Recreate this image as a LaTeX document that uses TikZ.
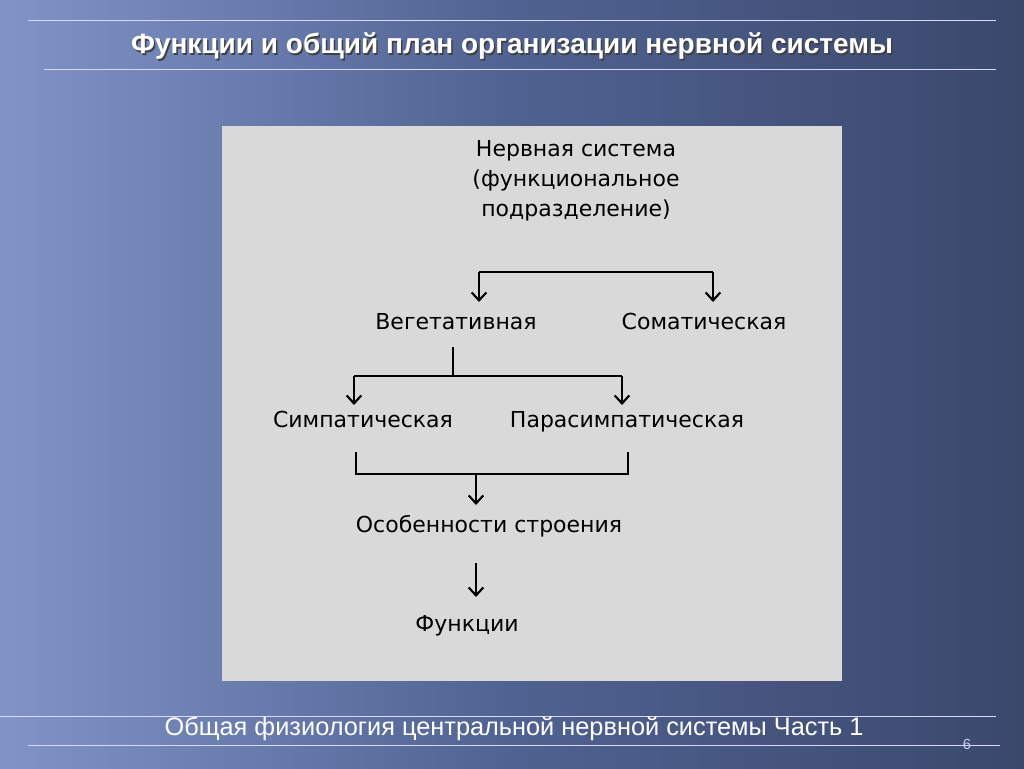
\documentclass[tikz,border=0pt]{standalone}
\usepackage{fontspec}
\setmainfont{Liberation Sans}
\newfontfamily\diafont{DejaVu Sans}
\usetikzlibrary{arrows.meta}
\begin{document}
\begin{tikzpicture}[x=0.75pt,y=-0.75pt,
  lbl/.style={font=\diafont\fontsize{16.5}{22.5}\selectfont,text=black,inner sep=0pt,text height=12pt,text depth=3pt},
  ln/.style={line width=1.6pt,black},
  arr/.style={ln,-{Straight Barb[length=6pt,width=11pt,line width=1.6pt]}},
  rule/.style={white!85!blue,line width=0.6pt}]
\useasboundingbox (0,0) rectangle (1024,768);
\shade[left color={rgb,255:red,128;green,148;blue,200},right color={rgb,255:red,58;green,72;blue,108},middle color={rgb,255:red,80;green,98;blue,145}] (0,0) rectangle (1024,768);
\draw[rule] (28,20) -- (996,20);
\draw[rule] (44,69) -- (996,69);
\draw[rule] (0,716) -- (996,716);
\draw[rule] (28,745) -- (1000,745);
\node[font=\bfseries\fontsize{21}{25}\selectfont,text=black!75] at (513.5,47.5) {Функции и общий план организации нервной системы};
\node (title) [font=\bfseries\fontsize{21}{25}\selectfont,text=white] at (512,46) {Функции и общий план организации нервной системы};
\node (foot) [font=\fontsize{19}{23}\selectfont,text=white] at (514,729) {Общая физиология центральной нервной системы Часть 1};
\node (num) [font=\fontsize{11}{13}\selectfont,text=white!80!blue] at (967,744) {6};
\fill[gray!30] (222,126) rectangle (842,681);
\node (ns) [lbl,align=center,text height=,text depth=] at (576,181) {Нервная система\\(функциональное\\подразделение)};
\node (veg) [lbl] at (456,323) {Вегетативная};
\node (som) [lbl] at (704,323) {Соматическая};
\node (sym) [lbl] at (363,421) {Симпатическая};
\node (par) [lbl] at (627,421) {Парасимпатическая};
\node (oso) [lbl] at (489,526) {Особенности строения};
\node (fun) [lbl] at (467,625) {Функции};
\coordinate (a1) at (479,272); \coordinate (a2) at (713,272);
\draw[ln] (a1) -- (a2);
\draw[arr] (a1) -- (479,302);
\draw[arr] (a2) -- (713,302);
\coordinate (v0) at (453,347); \coordinate (v1) at (453,376);
\draw[ln] (v0) -- (v1);
\coordinate (b1) at (354,376); \coordinate (b2) at (622,376);
\draw[ln] (b1) -- (b2);
\draw[arr] (b1) -- (354,405);
\draw[arr] (b2) -- (622,405);
\coordinate (c1) at (356,452); \coordinate (c2) at (628,452);
\draw[ln] (c1) -- (356,474) -- (628,474) -- (c2);
\draw[arr] (476,474) -- (476,505);
\draw[arr] (476,563) -- (476,597);
\end{tikzpicture}
\end{document}
